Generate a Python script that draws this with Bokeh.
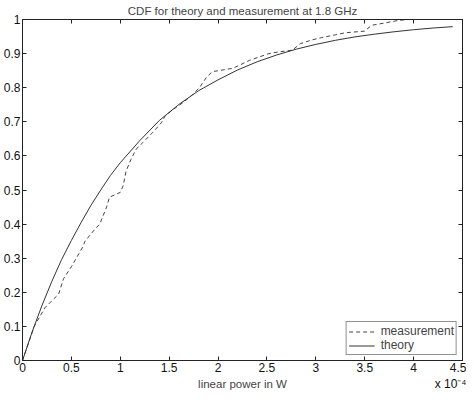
from bokeh.plotting import figure
from bokeh.models import (LinearAxis, FixedTicker, CustomJSTickFormatter, Range1d,
                          Legend, LegendItem, Title)
from bokeh.embed import file_html
from bokeh.resources import INLINE

# measurement (empirical CDF), x in units of 1e-4 W
meas_x = [0, 0.06, 0.12, 0.23, 0.30, 0.37, 0.42, 0.50, 0.61, 0.64, 0.74, 0.79, 0.86,
          0.89, 1.00, 1.03, 1.06, 1.11, 1.16, 1.23, 1.33, 1.42, 1.46, 1.55, 1.65,
          1.74, 1.81, 1.88, 1.94, 2.05, 2.15, 2.22, 2.32, 2.42, 2.52, 2.62, 2.76,
          2.84, 2.96, 3.06, 3.20, 3.30, 3.50, 3.57, 3.71, 3.84, 3.94, 4.22]
meas_y = [0, 0.05, 0.10, 0.155, 0.175, 0.195, 0.24, 0.275, 0.33, 0.35, 0.385, 0.40, 0.45,
          0.479, 0.493, 0.513, 0.556, 0.59, 0.619, 0.639, 0.668, 0.697, 0.718, 0.738, 0.758,
          0.78, 0.80, 0.83, 0.847, 0.852, 0.857, 0.866, 0.88, 0.89, 0.90, 0.905, 0.91,
          0.929, 0.94, 0.947, 0.955, 0.961, 0.966, 0.983, 0.99, 0.997, 1.0, 1.0]

# theory CDF
theo_x = [0, 0.1, 0.2, 0.3, 0.4, 0.5, 0.6, 0.7, 0.8, 0.9, 1.0, 1.2, 1.4, 1.6, 1.8, 2.0,
          2.2, 2.4, 2.6, 2.8, 3.0, 3.2, 3.4, 3.6, 3.8, 4.0, 4.2, 4.4]
theo_y = [0, 0.085, 0.162, 0.232, 0.296, 0.352, 0.405, 0.455, 0.500, 0.543, 0.580, 0.645,
          0.704, 0.751, 0.791, 0.823, 0.852, 0.876, 0.896, 0.913, 0.927, 0.939, 0.949,
          0.957, 0.964, 0.970, 0.975, 0.979]

x_ticks = [0, 0.5, 1, 1.5, 2, 2.5, 3, 3.5, 4, 4.5]
y_ticks = [0, 0.1, 0.2, 0.3, 0.4, 0.5, 0.6, 0.7, 0.8, 0.9, 1]

title_text = "CDF for theory and measurement at 1.8 GHz"
x_label = "linear power in W"
x_scale_text = "x 10\u207b\u2074"
FONT = "Liberation Sans"

p = figure(width=466, height=392, output_backend="svg", toolbar_location=None,
           x_range=Range1d(0, 4.5), y_range=Range1d(0, 1),
           min_border_left=4, min_border_right=4, min_border_top=3, min_border_bottom=1)
p.title.text = title_text
p.title.align = "center"
p.title.text_font = FONT
p.title.text_font_size = "11.5px"
p.title.text_font_style = "normal"
p.title.standoff = 5
p.grid.visible = False
p.outline_line_color = "#222222"
p.outline_line_width = 1
p.background_fill_color = "white"
p.border_fill_color = "white"

fmt = CustomJSTickFormatter(code="return String(tick);")

def style(ax, ticks, labels=True):
    ax.ticker = FixedTicker(ticks=ticks)
    ax.formatter = fmt
    ax.major_tick_in = 4
    ax.major_tick_out = 0
    ax.minor_tick_line_color = None
    ax.axis_line_color = "#222222"
    ax.major_tick_line_color = "#222222"
    ax.major_label_text_font = FONT
    ax.major_label_text_font_size = "12px"
    ax.major_label_text_color = "#111111"
    ax.major_label_standoff = 2
    if not labels:
        ax.major_label_text_font_size = "0px"
        ax.major_label_text_alpha = 0

style(p.xaxis[0], x_ticks)
style(p.yaxis[0], y_ticks)
p.xaxis[0].axis_label = x_label
p.xaxis[0].axis_label_text_font = FONT
p.xaxis[0].axis_label_text_font_size = "11.5px"
p.xaxis[0].axis_label_text_font_style = "normal"
p.xaxis[0].axis_label_standoff = 3

top = LinearAxis()
style(top, x_ticks, labels=False)
p.add_layout(top, "above")
right = LinearAxis()
style(right, y_ticks, labels=False)
p.add_layout(right, "right")

r_meas = p.line(meas_x, meas_y, line_color="#444444", line_width=1, line_dash="4 3")
r_theo = p.line(theo_x, theo_y, line_color="#333333", line_width=1)

legend = Legend(items=[LegendItem(label="measurement", renderers=[r_meas]),
                       LegendItem(label="theory", renderers=[r_theo])],
                location="bottom_right")
legend.label_text_font = FONT
legend.label_text_font_size = "12px"
legend.border_line_color = "#222222"
legend.border_line_width = 1
legend.glyph_width = 26
legend.glyph_height = 11
legend.label_height = 11
legend.spacing = 0
legend.padding = 2
legend.margin = 5
legend.label_standoff = 6
p.add_layout(legend)

scale_title = Title(text=x_scale_text, align="right", vertical_align="top",
                    text_font=FONT, text_font_size="12px", text_font_style="normal",
                    text_color="#111111", standoff=-32, offset=-4)
p.add_layout(scale_title, "below")

open("out.html", "w").write(file_html(p, INLINE))
